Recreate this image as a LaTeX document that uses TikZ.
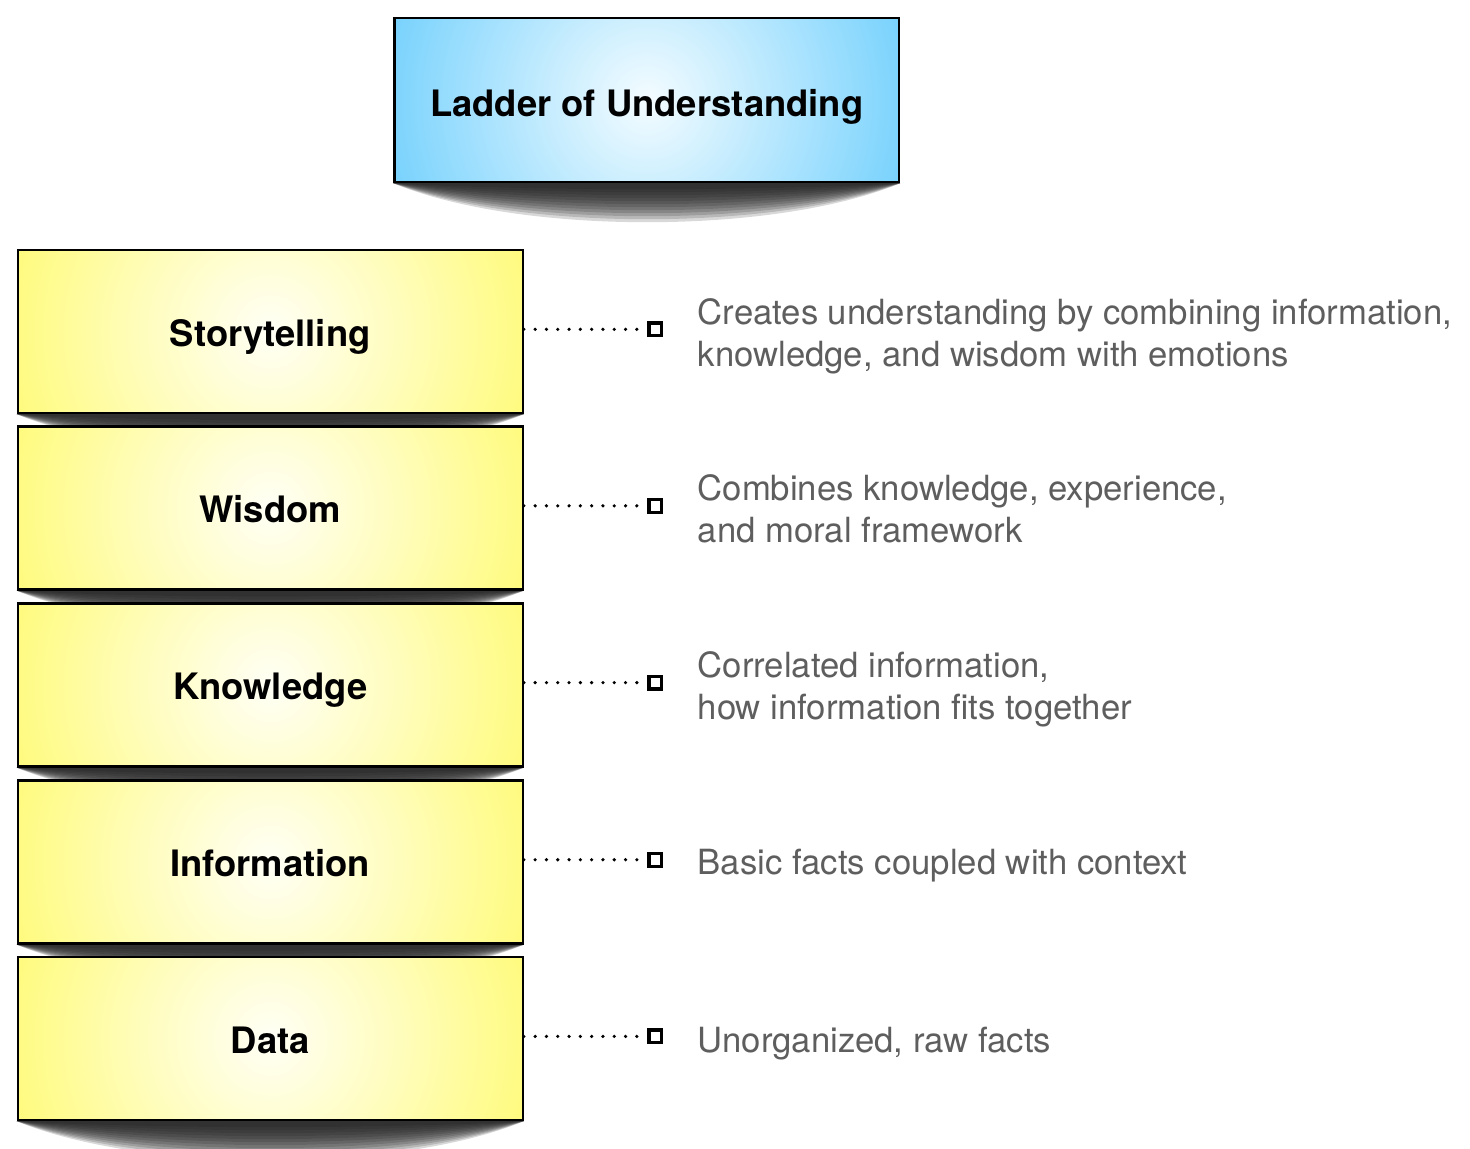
\documentclass[tikz,border=0pt]{standalone}
\usepackage{fontspec}
\setmainfont{TeX Gyre Heros}
\usetikzlibrary{backgrounds,calc,positioning,shadows}

\definecolor{rungyellow}{HTML}{FFFB7E}
\definecolor{rungglow}{HTML}{FFFFF6}
\definecolor{titleblue}{HTML}{78D2FD}
\definecolor{titleglow}{HTML}{F4FCFF}
\definecolor{descgray}{HTML}{5E5E5E}

\begin{document}
\begin{tikzpicture}[x=0.5pt, y=-0.5pt]
\tikzstyle{rung} = [draw, line width=1.1pt,
  path picture={\shade[inner color=rungglow, outer color=rungyellow]
    (path picture bounding box.center) circle (133pt);},
  minimum width=252.5pt, minimum height=81.5pt, inner sep=0pt,
  text height=14.5pt, text depth=0pt,
  font=\fontsize{18.2}{22}\selectfont\bfseries,
  drop shadow={shadow xshift=.6pt, shadow yshift=-.6pt, opacity=.25}]
\tikzstyle{heading} = [rung, line width=1.2pt,
  path picture={\shade[inner color=titleglow, outer color=titleblue]
    (path picture bounding box.center) circle (133pt);},
  minimum width=252.25pt, minimum height=82pt, text height=16pt]
\tikzstyle{curl} = [left color=black!90, middle color=black!52, right color=black!90,
  fill opacity=.17]
\tikzstyle{leader} = [line width=1.8pt, line cap=round, dash pattern=on 0pt off 5.65pt]
\tikzstyle{tick} = [draw, line width=1.6pt, fill=white, minimum size=6.4pt, inner sep=0pt]
\tikzstyle{desc} = [align=left, inner sep=0pt, text=descgray, yshift=-3.4pt,
  font=\fontsize{17.35}{21.2}\selectfont]

\useasboundingbox (0,0) rectangle (1470,1148);

% title and the rungs, top to bottom
\node[heading] (title) at (646.75,100) {Ladder of Understanding};
\node[rung] (story) at (270.25,331.5) {Storytelling};
\node[rung] (wisdom) at (270.25,508) {Wisdom};
\node[rung] (knowledge) at (270.25,685) {Knowledge};
\node[rung] (info) at (270.25,862) {Information};
\node[rung] (data) at (270.25,1038.5) {Data};

% curled shadows under every box
\begin{scope}[on background layer]
\foreach \rungname in {title,story,wisdom,knowledge,info,data}
  \foreach \depth in {8,12,...,52}
    \shade[curl] (\rungname.south west)
      .. controls ($(\rungname.south west)+(126,\depth)$)
      and ($(\rungname.south east)+(-126,\depth)$) .. (\rungname.south east) -- cycle;
\end{scope}

% leaders and descriptions
\node[tick] (storytick) at (655.3,329.3) {};
\draw[leader] (story.east |- storytick) -- (storytick);
\node[desc, right=17pt of storytick.east, anchor=west] (storytext)
  {Creates understanding by combining information,\\
   knowledge, and wisdom with emotions};

\node[tick] (wisdomtick) at (655.3,505.8) {};
\draw[leader] (wisdom.east |- wisdomtick) -- (wisdomtick);
\node[desc, right=17pt of wisdomtick.east, anchor=west, yshift=2pt] (wisdomtext)
  {Combines knowledge, experience,\\
   and moral framework};

\node[tick] (knowledgetick) at (655.3,682.6) {};
\draw[leader] (knowledge.east |- knowledgetick) -- (knowledgetick);
\node[desc, right=17pt of knowledgetick.east, anchor=west] (knowledgetext)
  {Correlated information,\\
   how information fits together};

\node[tick] (infotick) at (655.3,859.7) {};
\draw[leader] (info.east |- infotick) -- (infotick);
\node[desc, right=17pt of infotick.east, anchor=west, yshift=.6pt] (infotext)
  {Basic facts coupled with context};

\node[tick] (datatick) at (655.3,1036.4) {};
\draw[leader] (data.east |- datatick) -- (datatick);
\node[desc, right=17pt of datatick.east, anchor=west] (datatext)
  {Unorganized, raw facts};
\end{tikzpicture}
\end{document}
